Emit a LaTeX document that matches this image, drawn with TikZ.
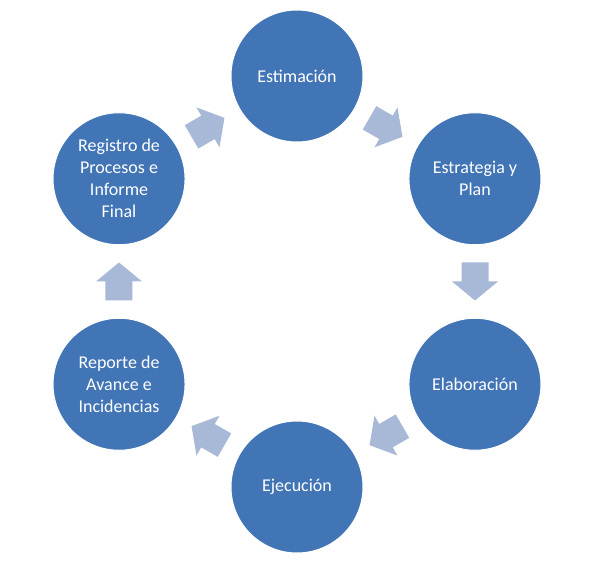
\documentclass[tikz,border=0pt]{standalone}
\usepackage{fontspec}
\setmainfont{Carlito}
\definecolor{circblue}{HTML}{4275B5}
\definecolor{arrblue}{HTML}{A7B9D6}
\begin{document}
\begin{tikzpicture}[x=1pt,y=1pt,
  circ/.style={circle,fill=circblue,draw=white,line width=1pt,minimum size=132pt,inner sep=0pt,
    text=white,align=center,font=\fontsize{18}{22}\selectfont},
  blockarrow/.style={fill=arrblue,draw=none}]
\useasboundingbox (-297,281.5) rectangle (295,-280.5);
\fill[white] (-297,281.5) rectangle (295,-280.5);
\def\R{205.5}
\def\A{178}
\node[circ] (est) at (90:\R) {Estimación};
\node[circ] (plan) at (30:\R) {Estrategia y\\Plan};
\node[circ] (elab) at (-30:\R) {Elaboración};
\node[circ] (ejec) at (-90:\R) {Ejecución};
\node[circ] (rep) at (-150:\R) {Reporte de\\Avance e\\Incidencias};
\node[circ] (reg) at (150:\R) {Registro de\\Procesos e\\Informe\\Final};
\foreach \t/\n in {60/a1,0/a2,-60/a3,-120/a4,180/a5,120/a6}{
  \coordinate (\n) at (\t:\A);
  \fill[blockarrow,shift={(\n)},rotate=\t-90]
    (-19,-13.5) -- (0,-13.5) -- (0,-23) -- (19,0) -- (0,23) -- (0,13.5) -- (-19,13.5) -- cycle;
}
\end{tikzpicture}
\end{document}
